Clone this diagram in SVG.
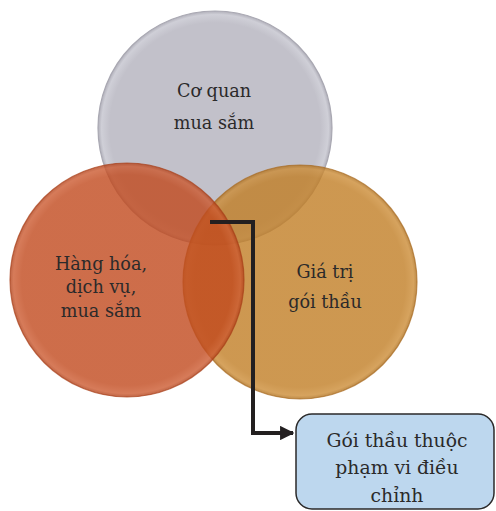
<svg xmlns="http://www.w3.org/2000/svg" width="496" height="511" viewBox="0 0 496 511">
  <style>
    .lbl { font-family: "DejaVu Serif", "Liberation Serif", serif; font-size: 17.6px; fill: #2b2a2a; text-anchor: middle; }
    .box { font-size: 18.8px; }
    .circ { stroke-width: 1.2; }
    .conn { fill: none; stroke: #231f20; stroke-width: 4; stroke-linejoin: miter; }
  </style>
  <defs>
    <radialGradient id="gGray" cx="50%" cy="50%" r="50%">
      <stop offset="0.9" stop-color="#c2c1ca"/>
      <stop offset="0.97" stop-color="#cfcfd7"/>
      <stop offset="1" stop-color="#b1b0ba"/>
    </radialGradient>
    <radialGradient id="gOrange" cx="50%" cy="50%" r="50%">
      <stop offset="0.9" stop-color="#c1491d"/>
      <stop offset="0.97" stop-color="#cc5a30"/>
      <stop offset="1" stop-color="#b04018"/>
    </radialGradient>
    <radialGradient id="gYellow" cx="50%" cy="50%" r="50%">
      <stop offset="0.9" stop-color="#c17e25"/>
      <stop offset="0.97" stop-color="#cc8c36"/>
      <stop offset="1" stop-color="#ae6f1c"/>
    </radialGradient>
    <marker id="arrow" viewBox="0 0 10 10" refX="9" refY="5" markerWidth="3.6" markerHeight="3.6" orient="auto" markerUnits="strokeWidth">
      <path d="M0,0 L10,5 L0,10 z" fill="#231f20"/>
    </marker>
  </defs>

  <g id="node-co-quan">
    <circle class="circ" cx="215" cy="128" r="117" fill="url(#gGray)" stroke="#a9a8b2"/>
    <text class="lbl" x="214" y="97">Cơ quan</text>
    <text class="lbl" x="214" y="129">mua sắm</text>
  </g>

  <g id="node-gia-tri">
    <circle class="circ" cx="300" cy="282" r="117" fill="url(#gYellow)" fill-opacity="0.8" stroke="#a86a1f" stroke-opacity="0.7"/>
    <text class="lbl" x="325" y="278">Giá trị</text>
    <text class="lbl" x="325" y="308">gói thầu</text>
  </g>

  <g id="node-hang-hoa">
    <circle class="circ" cx="127" cy="280" r="117" fill="url(#gOrange)" fill-opacity="0.8" stroke="#a83f18" stroke-opacity="0.7"/>
    <text class="lbl" x="101" y="270">Hàng hóa,</text>
    <text class="lbl" x="101" y="293">dịch vụ,</text>
    <text class="lbl" x="101" y="317">mua sắm</text>
  </g>

  <g id="connectors">
    <polyline class="conn" points="210,222 253,222 253,433 293,433" marker-end="url(#arrow)"/>
  </g>

  <g id="node-goi-thau">
    <rect x="296" y="414" width="198" height="95" rx="16" ry="16" fill="#bdd7ee" stroke="#2b2a2a" stroke-width="1.5"/>
    <text class="lbl box" x="397" y="447">Gói thầu thuộc</text>
    <text class="lbl box" x="397" y="474">phạm vi điều</text>
    <text class="lbl box" x="397" y="502">chỉnh</text>
  </g>
</svg>
